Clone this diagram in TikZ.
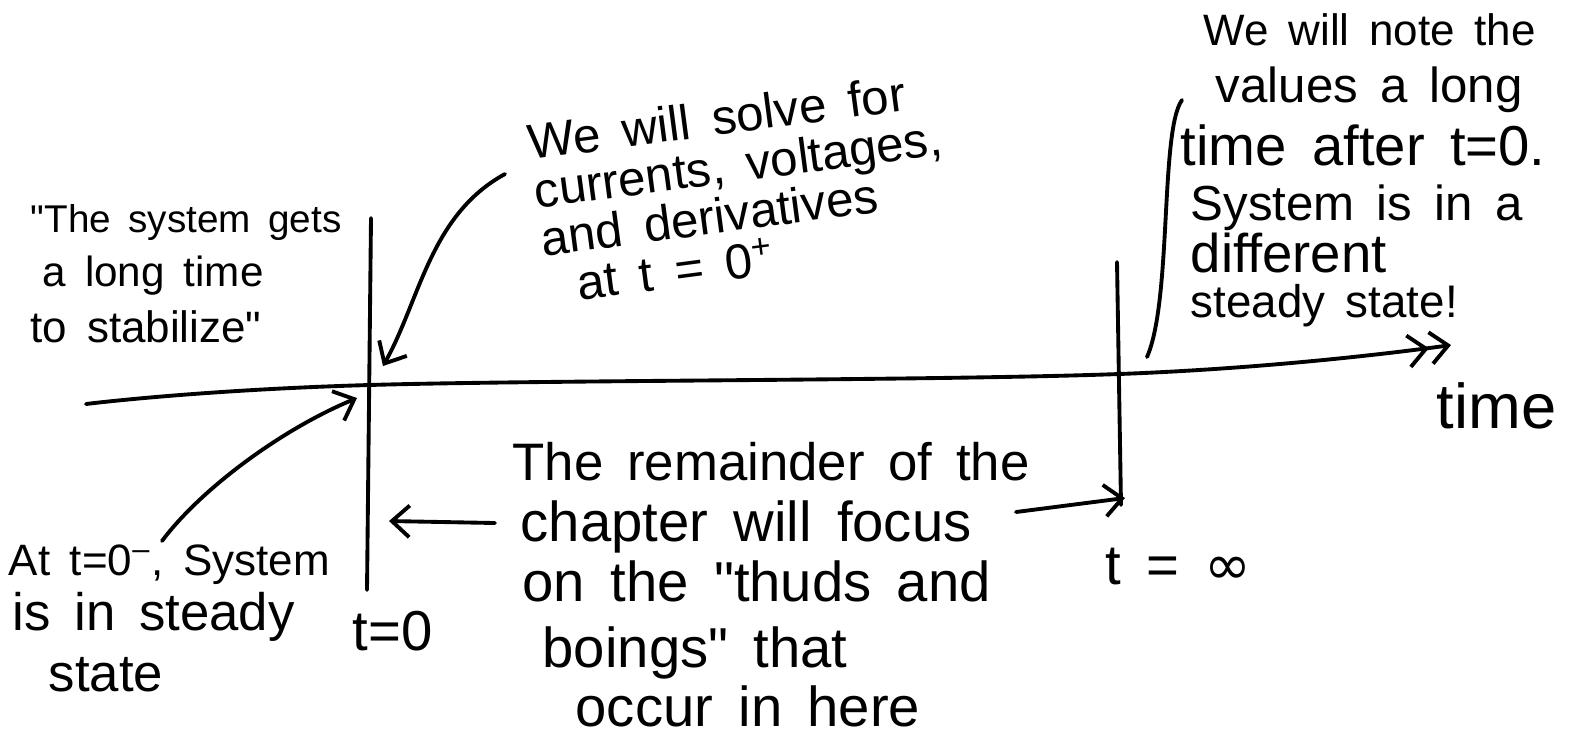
\documentclass[tikz,border=0pt]{standalone}
\usepackage{fontspec}
\setmainfont{Liberation Sans}
\newfontfamily\symfont{DejaVu Sans}
\usetikzlibrary{arrows.meta}
\newcommand\handspace{\spaceskip=0.45em\relax}
\newcommand\qq{\textquotedbl}
\begin{document}
\begin{tikzpicture}[x=0.01cm,y=-0.01cm,
  hand/.style={font={\fontsize{#1}{#1}\selectfont\handspace}, inner sep=0pt, anchor=base west},
  pen/.style={line width=1.1pt, line cap=round, line join=round},
  barb/.style={pen,-{Straight Barb[length=5pt,width=9pt,line width=1.1pt]}},
  dbarb/.style={pen,-{Straight Barb[length=5pt,width=9pt,line width=1.1pt]Straight Barb[length=5pt,width=9pt,line width=1.1pt]}}]
\useasboundingbox (0,0) rectangle (1585,744);

% axis and time markers
\coordinate (axL) at (86,404);
\coordinate (ax0) at (369,385);
\coordinate (axI) at (1119,374);
\coordinate (axR) at (1451,345);
\draw[dbarb] plot[smooth, tension=0.6] coordinates {(axL) (ax0) (axI) (axR)};
\coordinate (v0t) at (371,218);
\coordinate (v0b) at (367,590);
\draw[pen] (v0t) -- (v0b);
\coordinate (vIt) at (1117,262);
\coordinate (vIb) at (1121,505);
\draw[pen] (vIt) -- (vIb);

% top-left text
\node[hand=11] (tl1) at (30,232) {\qq The system gets};
\node[hand=12] (tl2) at (42,286) {a long time};
\node[hand=12.5] (tl3) at (30,342) {to stabilize\qq};

% top-middle text (one slanted block)
\node[inner sep=0pt, anchor=north west, rotate=7.5, align=left,
      font={\fontsize{14}{13.8}\selectfont\handspace}] (tm) at (525,124)
  {We will solve for\\ currents, voltages,\\ and derivatives\\ \hspace*{0.3cm}at t = 0\textsuperscript{+}};
\coordinate (sA) at (505,174);
\coordinate (sB) at (383,366);
\draw[barb] (sA) .. controls (430,215) and (420,300) .. (sB);

% top-right text
\node[hand=12.5] (tr1) at (1203,45) {We will note the};
\node[hand=14] (tr2) at (1215,102) {values a long};
\node[hand=16] (tr3) at (1180,165) {time after t=0.};
\node[hand=14] (tr4) at (1190,220) {System is in a};
\node[hand=15.5] (tr5) at (1190,272) {different};
\node[hand=13] (tr6) at (1190,317) {steady state!};
\coordinate (bA) at (1147,357);
\coordinate (bB) at (1182,100);
\draw[pen] (bA) .. controls (1172,300) and (1160,130) .. (bB);

\node[hand=18] (time) at (1436,428) {time};

% bottom-left text
\node[hand=12.5] (bl1) at (8,575) {At t=0\textsuperscript{--}, System};
\node[hand=15] (bl2) at (12,630) {is in steady};
\node[hand=15] (bl3) at (48,691) {state};
\node[hand=16] (t0) at (352,650) {t=0};
\coordinate (lA) at (162,541);
\coordinate (lB) at (357,398);
\draw[barb] (lA) .. controls (200,490) and (280,430) .. (lB);

% bottom-center text
\node[hand=15] (bc1) at (512,480) {The remainder of the};
\node[hand=16] (bc2) at (520,541) {chapter will focus};
\node[hand=16] (bc3) at (522,601) {on the \qq thuds and};
\node[hand=16] (bc4) at (542,667) {boings\qq{} that};
\node[hand=16] (bc5) at (575,726) {occur in here};
\coordinate (lfA) at (495,523);
\coordinate (lfB) at (389,521);
\draw[barb] (lfA) -- (lfB);
\coordinate (rtA) at (1016,512);
\coordinate (rtB) at (1125,498);
\draw[barb] (rtA) -- (rtB);

\node[hand=16] (tinf) at (1105,584) {t = {\symfont ∞}};
\end{tikzpicture}
\end{document}
